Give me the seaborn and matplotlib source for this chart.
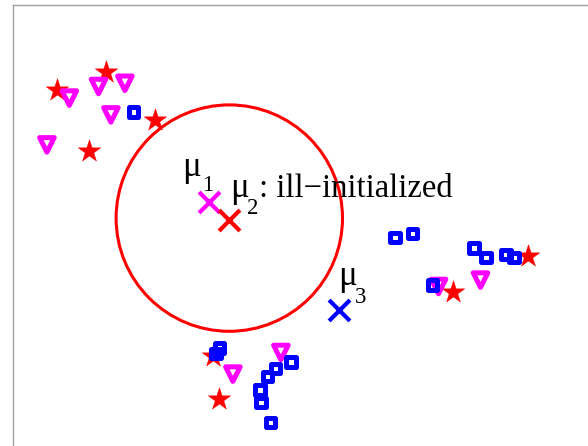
import matplotlib
matplotlib.use("Agg")
import matplotlib.pyplot as plt
from matplotlib.patches import Circle
import pandas as pd
import seaborn as sns

# Cluster 1 points (red stars)
star_x = [1.12, 2.34, 3.56, 1.92, 5.02, 5.17, 12.89, 11.02]
star_y = [8.76, 9.21, 8.01, 7.24, 2.10, 1.03, 4.60, 3.70]

# Cluster 2 points (magenta down-triangles)
tri_x = [1.42, 2.15, 2.81, 2.46, 0.86, 5.51, 6.71, 11.70, 10.65]
tri_y = [8.56, 8.85, 8.93, 8.14, 7.39, 1.66, 2.20, 4.01, 3.85]

# Cluster 3 points (blue squares)
sq_x = [3.02, 5.17, 5.09, 6.96, 6.57, 6.37, 6.19, 6.21, 6.45,
        9.56, 10.00, 11.54, 11.84, 12.34, 12.54, 10.50]
sq_y = [8.21, 2.31, 2.18, 1.96, 1.80, 1.60, 1.26, 0.95, 0.45,
        5.07, 5.18, 4.81, 4.57, 4.65, 4.58, 3.89]

# Initial cluster centres
mu_names = ["mu1", "mu2", "mu3"]
mu_x = [4.92, 5.40, 8.17]
mu_y = [5.97, 5.51, 3.26]
mu_colors = ["#ff00ff", "#ff0000", "#0000ff"]

# Radius drawn around the ill-initialized centre
circle_center = (5.42, 5.56)
circle_radius = 2.83

sns.set_theme(style="white")
plt.rcParams["font.family"] = ["Liberation Serif", "DejaVu Serif"]

fig = plt.figure(figsize=(5.88, 4.46), dpi=100)
ax = fig.add_axes([12.5 / 588, 0.98767 - 1.02018, 1.0, 1.02018])
ax.set_xlim(0, 14.7)
ax.set_ylim(-0.5, 10.875)

stars = pd.DataFrame({"x": star_x, "y": star_y})
tris = pd.DataFrame({"x": tri_x, "y": tri_y})
squares = pd.DataFrame({"x": sq_x, "y": sq_y})

ax.add_patch(Circle(circle_center, circle_radius, fill=False,
                    edgecolor="#ff0000", linewidth=2.2, zorder=1))

sns.scatterplot(data=stars, x="x", y="y", marker="*", s=290,
                color="#ff0000", edgecolor="#ff0000", linewidth=0.3,
                ax=ax, zorder=2, legend=False)
sns.scatterplot(data=tris, x="x", y="y", marker="v", s=110,
                facecolor="none", edgecolor="#ff00ff", linewidth=3.6,
                ax=ax, zorder=3, legend=False)
sns.scatterplot(data=squares, x="x", y="y", marker="s", s=44,
                facecolor="none", edgecolor="#0000ff", linewidth=3.6,
                ax=ax, zorder=4, legend=False)
for i in range(len(mu_names)):
    sns.scatterplot(x=[mu_x[i]], y=[mu_y[i]], marker="x", s=225,
                    color=mu_colors[i], linewidth=3.0,
                    ax=ax, zorder=5, legend=False)

# Centre labels: Greek letter with a lowered, smaller index
big, small = 23.5, 16.5
txt = dict(color="black", ha="left", va="baseline", zorder=6)
ax.text(4.24, 6.61, "\u03bc", fontsize=big + 1.5, **txt)
ax.text(4.73, 6.23, "1", fontsize=small, **txt)
ax.text(5.44, 6.09, "\u03bc", fontsize=big + 1.5, **txt)
ax.text(5.86, 5.66, "2", fontsize=small, **txt)
ax.text(6.17, 6.09, ": ill\u2212initialized", fontsize=big, **txt)
ax.text(8.14, 3.89, "\u03bc", fontsize=big + 1.5, **txt)
ax.text(8.56, 3.44, "3", fontsize=small, **txt)

ax.set_xticks([])
ax.set_yticks([])
ax.set_xlabel("")
ax.set_ylabel("")
for side in ["left", "top", "right", "bottom"]:
    ax.spines[side].set_color("#a0a0a0")
    ax.spines[side].set_linewidth(1.0)

fig.savefig("out.png", dpi=100)
